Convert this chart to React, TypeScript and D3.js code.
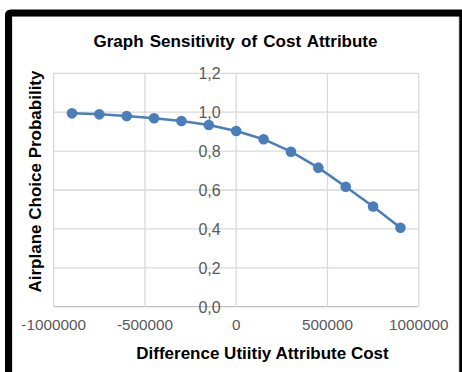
import React from "react";
import * as d3 from "d3";

const costDiff = [-900000, -750000, -600000, -450000, -300000, -150000, 0, 150000, 300000, 450000, 600000, 750000, 900000];
const probability = [0.994, 0.989, 0.98, 0.969, 0.955, 0.934, 0.903, 0.861, 0.797, 0.715, 0.617, 0.515, 0.406];
const xTicks = [-1000000, -500000, 0, 500000, 1000000];
const yTicks = [0, 0.2, 0.4, 0.6, 0.8, 1.0, 1.2];

const title = "Graph Sensitivity of Cost Attribute";
const xTitle = "Difference Utiitiy Attribute Cost";
const yTitle = "Airplane Choice Probability";

export default function App() {
  const W = 462, H = 372;
  const x = d3.scaleLinear().domain([-1000000, 1000000]).range([53.7, 418.7]);
  const y = d3.scaleLinear().domain([0, 1.2]).range([306.7, 73.3]);
  const line = d3.line<number>().x((_, i) => x(costDiff[i])).y((d) => y(d));
  const color = "#4a7ebb";
  const font = "'Liberation Sans', Arial, sans-serif";
  return (
    <svg width={W} height={H} style={{ position: "absolute", left: 0, top: 0, background: "#fff" }}>
      <rect x={0} y={0} width={W} height={H} fill="#fff" />
      <rect x={12} y={16} width={447} height={400} fill="none" stroke="#c8c8c8" strokeWidth={1} />
      <rect x={8.5} y={13} width={454.3} height={400} fill="none" stroke="#000" strokeWidth={7} rx={2} />
      <text x={235.5} y={47} textAnchor="middle" fontFamily={font} fontWeight="bold" fontSize={17} wordSpacing={1.5} fill="#000">{title}</text>
      {yTicks.map((t) => (
        <line key={"gy" + t} x1={x(-1000000)} x2={x(1000000)} y1={y(t)} y2={y(t)} stroke={t === 0 ? "#bfbfbf" : "#d9d9d9"} strokeWidth={1.3} />
      ))}
      {xTicks.map((t) => (
        <line key={"gx" + t} x1={x(t)} x2={x(t)} y1={y(1.2)} y2={y(0)} stroke="#d9d9d9" strokeWidth={1.3} />
      ))}
      {yTicks.map((t) => (
        <text key={"ty" + t} x={220.7} y={y(t) + 5.8} textAnchor="end" fontFamily={font} fontSize={16} fill="#595959">
          {t.toFixed(1).replace(".", ",")}
        </text>
      ))}
      {xTicks.map((t) => (
        <text key={"tx" + t} x={x(t)} y={330} textAnchor="middle" fontFamily={font} fontSize={15.3} fill="#595959">
          {String(t)}
        </text>
      ))}
      <path d={line(probability) || ""} fill="none" stroke={color} strokeWidth={2.5} strokeLinejoin="round" />
      {probability.map((p, i) => (
        <circle key={"p" + i} cx={x(costDiff[i])} cy={y(p)} r={5.3} fill={color} />
      ))}
      <text x={262.5} y={359} textAnchor="middle" fontFamily={font} fontWeight="bold" fontSize={17} fill="#000">{xTitle}</text>
      <text transform={`translate(40.5,181.5) rotate(-90)`} textAnchor="middle" fontFamily={font} fontWeight="bold" fontSize={17} fill="#000">{yTitle}</text>
    </svg>
  );
}
